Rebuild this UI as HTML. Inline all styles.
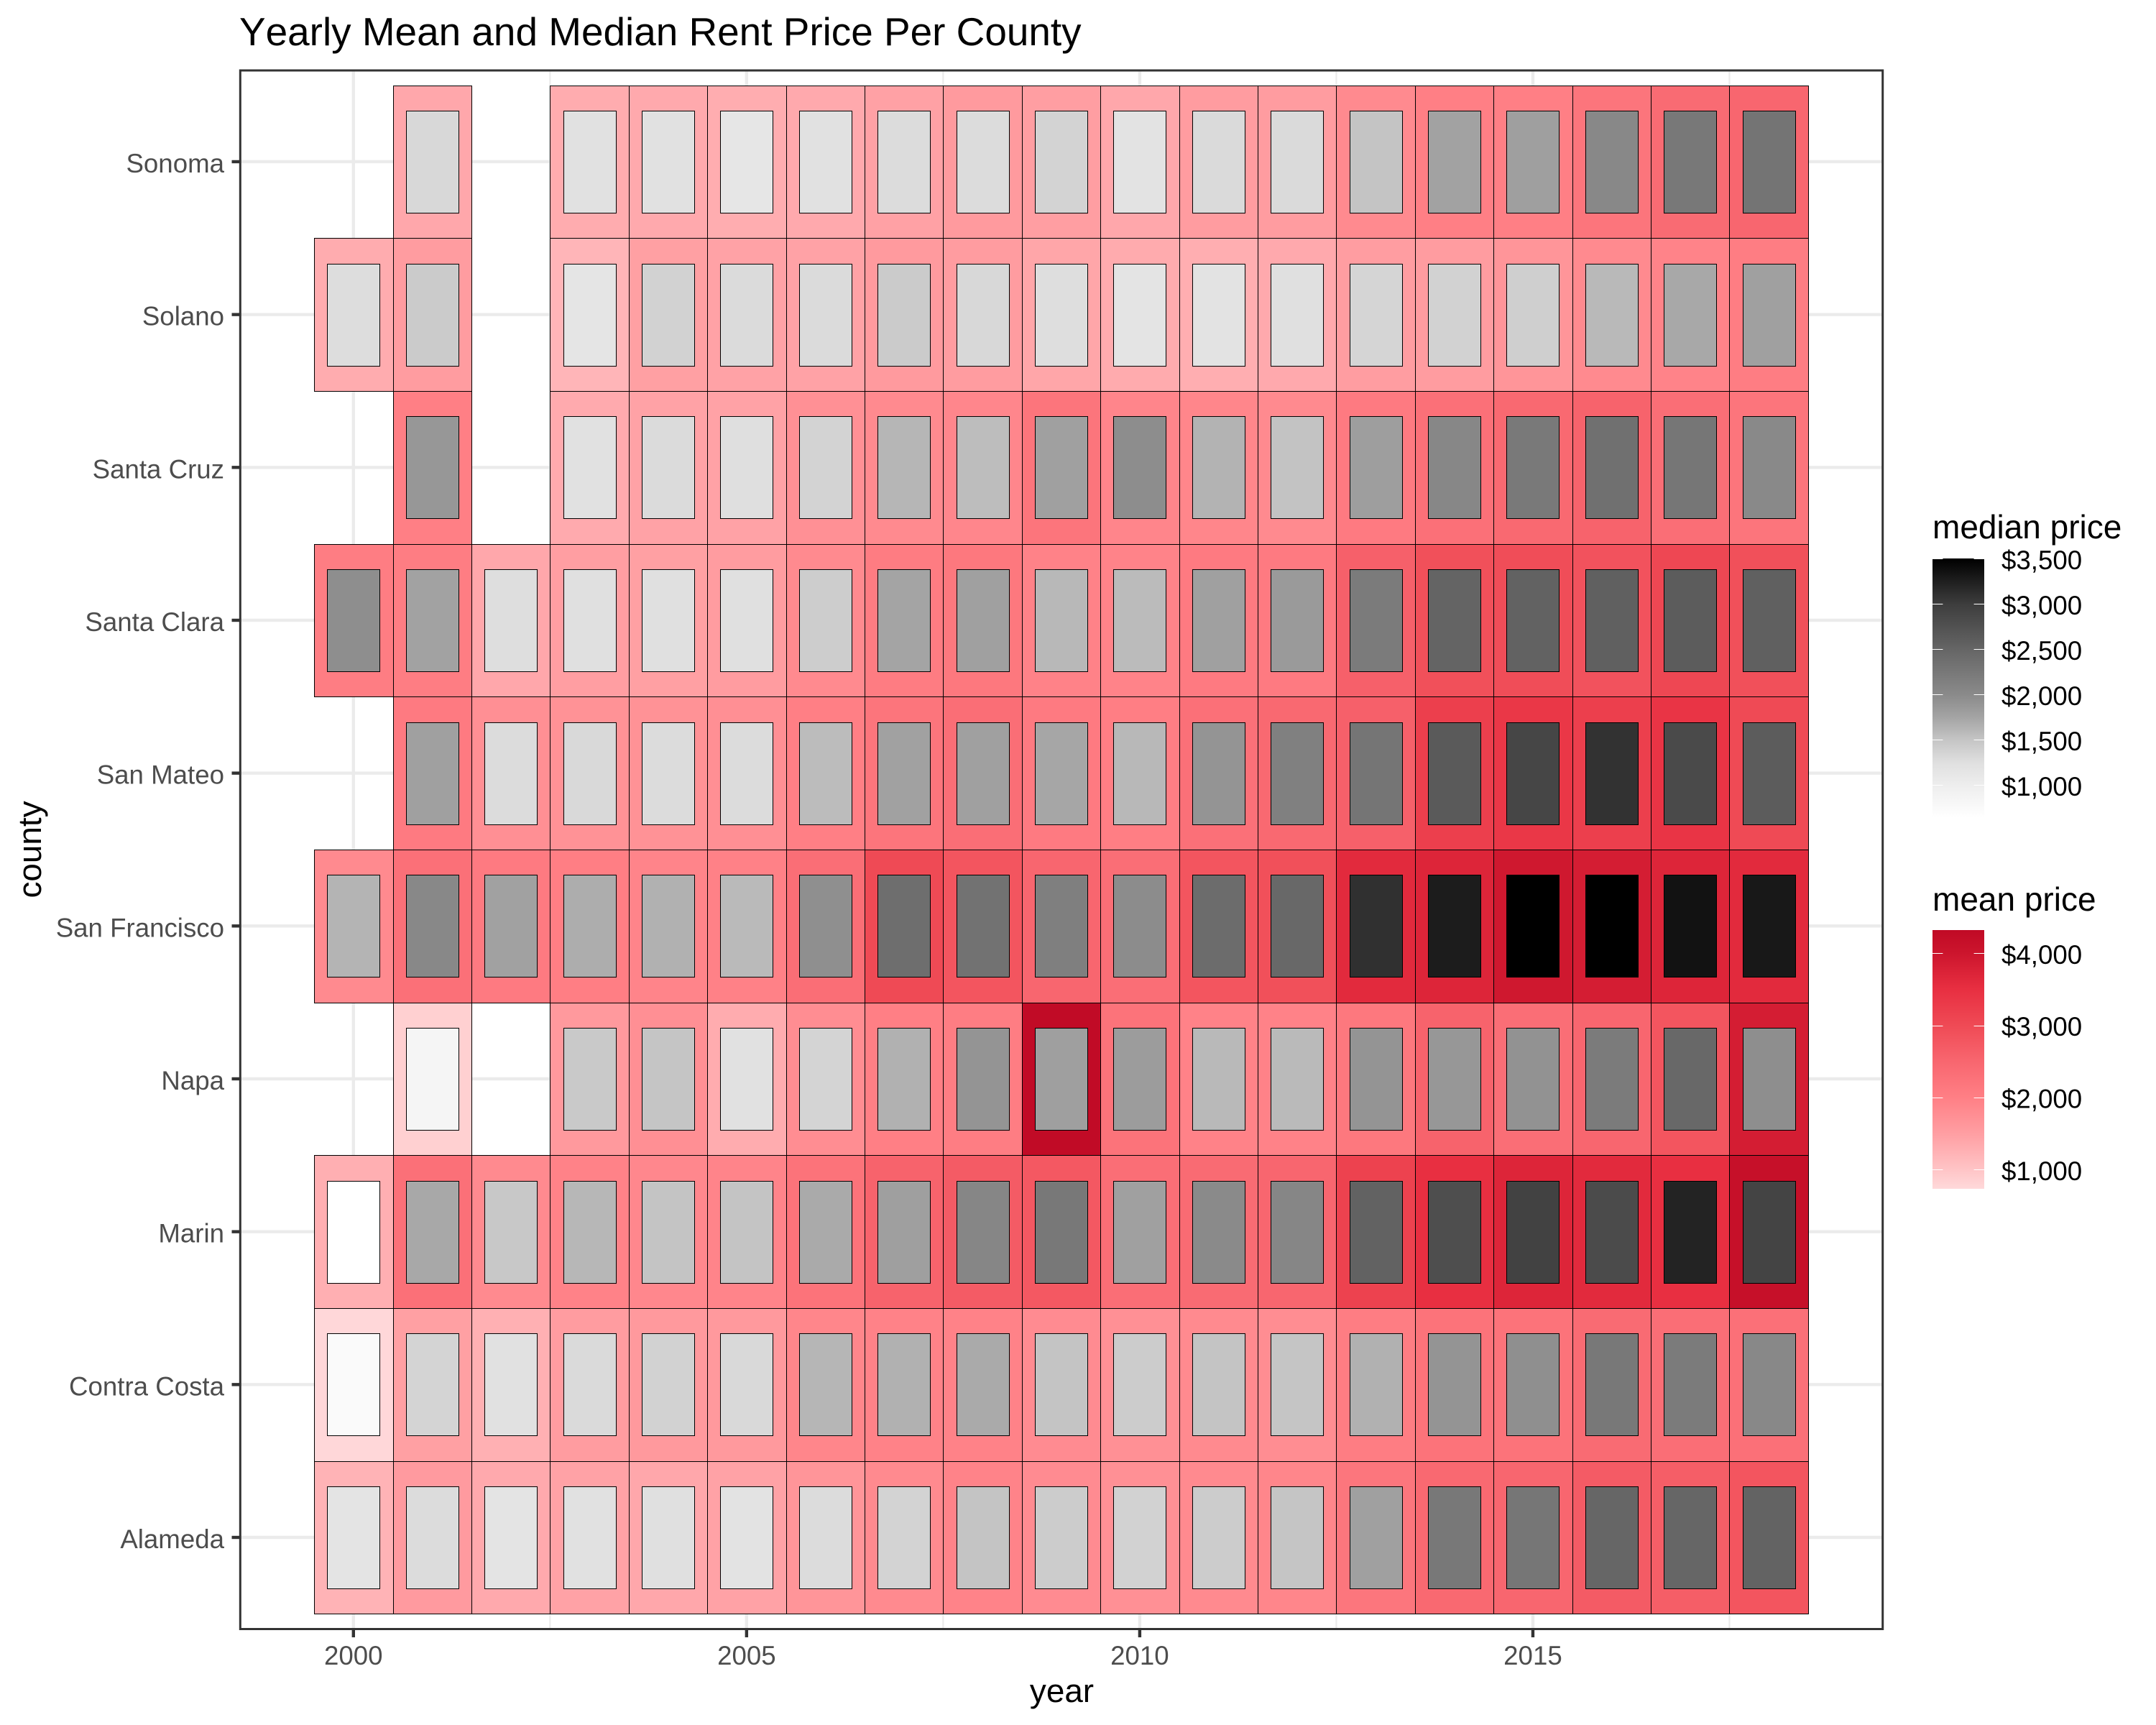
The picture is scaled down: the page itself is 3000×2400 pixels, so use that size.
<!DOCTYPE html>
<html lang="en">
<head>
<meta charset="utf-8">
<title>Yearly Mean and Median Rent Price Per County</title>
<style>
html,body{margin:0;padding:0;background:#fff;}
#chart{display:block;width:3000px;height:2400px;font-family:"Liberation Sans",Arial,sans-serif;font-kerning:none;}
</style>
</head>
<body>
<svg id="chart" xmlns="http://www.w3.org/2000/svg" width="3000" height="2400" viewBox="0 0 3000 2400">
  <defs>
    <linearGradient id="median-gradient" x1="0" y1="1" x2="0" y2="0"></linearGradient>
    <linearGradient id="mean-gradient" x1="0" y1="1" x2="0" y2="0"></linearGradient>
  </defs>
  <rect x="0" y="0" width="3000" height="2400" fill="#ffffff"/>
  <text x="333" y="63" font-size="54.9" fill="#000000">Yearly Mean and Median Rent Price Per County</text>
  <g id="grid"></g>
  <g id="tiles"></g>
  <rect x="334.3" y="98" width="2285.4" height="2168.5" fill="none" stroke="#333333" stroke-width="3"/>
  <g id="x-axis"></g>
  <g id="y-axis"></g>
  <text x="1477.5" y="2368" font-size="45.83" text-anchor="middle" fill="#000000">year</text>
  <text transform="translate(57,1182) rotate(-90)" font-size="45.83" text-anchor="middle" fill="#000000">county</text>
  <g id="legend-median">
    <text x="2689" y="749" font-size="46" fill="#000000">median price</text>
  </g>
  <g id="legend-mean">
    <text x="2689" y="1267" font-size="46" fill="#000000">mean price</text>
  </g>
</svg>
<script>
// ---- chart data ----
const years = [2000,2001,2002,2003,2004,2005,2006,2007,2008,2009,2010,2011,2012,2013,2014,2015,2016,2017,2018];
const counties = ["Alameda","Contra Costa","Marin","Napa","San Francisco","San Mateo","Santa Clara","Santa Cruz","Solano","Sonoma"];

const meanAlameda      = [1220,1560,1350,1450,1380,1450,1650,1820,1930,1800,1720,1820,1890,2180,2450,2500,2700,2650,2800];
const meanContraCosta  = [750,1480,1260,1530,1580,1580,1890,1950,1950,1800,1720,1820,1780,2050,2250,2250,2400,2350,2300];
const meanMarin        = [1280,2300,1820,1950,1870,1920,2250,2550,2700,2750,2350,2400,2500,3150,3500,3700,3600,3500,4150];
const meanNapa         = [null,850,null,1580,1750,1320,1780,2000,2050,4300,2250,1950,1950,2150,2550,2350,2500,2800,3850];
const meanSanFrancisco = [1820,2300,2100,2020,1920,1960,2350,3000,2800,2500,2350,2800,2900,3600,3700,3950,3850,3700,3600];
const meanSanMateo     = [null,2100,1750,1700,1700,1750,2000,2200,2350,2100,2020,2300,2450,2600,3200,3350,3200,3400,3000];
const meanSantaClara   = [2050,2050,1380,1500,1480,1530,1820,2070,2150,1950,1930,2100,2100,2600,2900,2950,2850,3050,2900];
const meanSantaCruz    = [null,2000,null,1340,1450,1450,1720,1820,1880,2200,1900,1890,1820,2100,2300,2450,2550,2350,2200];
const meanSolano       = [1320,1530,null,1200,1480,1450,1450,1570,1530,1400,1330,1290,1350,1510,1530,1650,1820,1930,2050];
const meanSonoma       = [null,1380,null,1320,1350,1300,1350,1460,1570,1500,1380,1530,1530,1820,2000,2000,2200,2400,2500];

const medianAlameda      = [1180,1288,1180,1232,1250,1196,1288,1375,1515,1442,1385,1442,1508,1798,2257,2284,2500,2500,2538];
const medianContraCosta  = [752,1365,1232,1308,1385,1317,1621,1659,1712,1515,1442,1515,1508,1659,1913,1962,2257,2216,2041];
const medianMarin        = [650,1727,1481,1614,1515,1515,1712,1808,2068,2257,1798,2014,2068,2550,2800,2950,2838,3225,2925];
const medianNapa         = [null,855,null,1471,1508,1232,1365,1659,1913,1808,1837,1598,1591,1913,1885,1933,2216,2473,1971];
const medianSanFrancisco = [1636,2041,1789,1689,1659,1591,1962,2392,2338,2162,1990,2419,2473,3117,3285,3505,3505,3363,3316];
const medianSanMateo     = [null,1798,1288,1317,1288,1288,1576,1789,1798,1742,1606,1913,2149,2297,2650,2900,3100,2850,2625];
const medianSantaClara   = [1971,1779,1269,1250,1250,1250,1433,1760,1798,1606,1583,1798,1856,2216,2525,2550,2575,2625,2575];
const medianSantaCruz    = [null,1885,null,1232,1298,1260,1375,1621,1568,1798,1981,1644,1523,1817,2054,2243,2365,2284,2027];
const medianSolano       = [1279,1452,null,1160,1385,1298,1298,1452,1327,1269,1180,1196,1250,1356,1385,1413,1598,1727,1798];
const medianSonoma       = [null,1327,null,1232,1232,1143,1232,1288,1288,1375,1196,1308,1308,1515,1779,1808,2041,2257,2311];

const meanRows = [meanAlameda,meanContraCosta,meanMarin,meanNapa,meanSanFrancisco,meanSanMateo,meanSantaClara,meanSantaCruz,meanSolano,meanSonoma];
const medianRows = [medianAlameda,medianContraCosta,medianMarin,medianNapa,medianSanFrancisco,medianSanMateo,medianSantaClara,medianSantaCruz,medianSolano,medianSonoma];

const xTickYears = [2000,2005,2010,2015];
const xMinorYears = [2002.5,2007.5,2012.5,2017.5];
const medianTicks = [1000,1500,2000,2500,3000,3500];
const medianTickLabels = ["$1,000","$1,500","$2,000","$2,500","$3,000","$3,500"];
const meanTicks = [1000,2000,3000,4000];
const meanTickLabels = ["$1,000","$2,000","$3,000","$4,000"];

// colour scales: value and matching colour
const medianDomain = [648,1000,1250,1500,1750,2000,2500,3000,3250,3505];
const medianColors = ["#ffffff","#eeeeee","#e0e0e0","#c6c6c6","#a5a5a5","#8b8b8b","#666666","#3e3e3e","#202020","#000000"];
const meanDomain = [730,1000,1500,2000,2500,3000,3500,4000,4320];
const meanColors = ["#ffd9da","#ffc4c6","#ff9ea2","#ff7f85","#f8666f","#ef4a55","#e82f41","#cc152d","#c00a25"];

// ---- axis functions ----
const xScale = year => 491.8 + (year - 2000) * 109.41;
const yScale = idx => 2139 - idx * 212.67;
const medianLegendY = v => 1092.3 - (v - 1000) * 0.126;
const meanLegendY = v => 1627.3 - (v - 1000) * 0.1003;

const NS = "http://www.w3.org/2000/svg";
function mk(tag, attrs, parent) {
  const el = document.createElementNS(NS, tag);
  for (const k in attrs) el.setAttribute(k, attrs[k]);
  parent.appendChild(el);
  return el;
}
function hexToRgb(h) {
  return [parseInt(h.slice(1,3),16),parseInt(h.slice(3,5),16),parseInt(h.slice(5,7),16)];
}
function colorAt(v, domain, colors) {
  if (v <= domain[0]) return colors[0];
  for (let i = 1; i < domain.length; i++) {
    if (v <= domain[i]) {
      const t = (v - domain[i-1]) / (domain[i] - domain[i-1]);
      const a = hexToRgb(colors[i-1]);
      const b = hexToRgb(colors[i]);
      return "rgb(" + a.map((c,j) => Math.round(c + (b[j]-c)*t)).join(",") + ")";
    }
  }
  return colors[colors.length-1];
}

// ---- grid ----
const gridG = document.getElementById("grid");
const panelL = 334, panelR = 2620, panelT = 98, panelB = 2266.5;
xMinorYears.forEach(yr => {
  const ln = mk("line", {x1:xScale(yr), x2:xScale(yr), y1:panelT, y2:panelB, stroke:"#ebebeb", "stroke-width":2.2}, gridG);
  
  
});
xTickYears.forEach(yr => {
  const ln = mk("line", {x1:xScale(yr), x2:xScale(yr), y1:panelT, y2:panelB, stroke:"#ebebeb", "stroke-width":4.4}, gridG);
  
  
});
counties.forEach((c, i) => {
  const ln = mk("line", {x1:panelL, x2:panelR, y1:yScale(i), y2:yScale(i), stroke:"#ebebeb", "stroke-width":4.4}, gridG);
  
  
});

// ---- tiles ----
const tilesG = document.getElementById("tiles");
function tileRect(cx, cy, w, h, fill, parent) {
  const x0 = Math.round(cx - w/2), x1 = Math.round(cx + w/2);
  const y0 = Math.round(cy - h/2), y1 = Math.round(cy + h/2);
  return mk("rect", {x:x0+0.5, y:y0+0.5, width:x1-x0, height:y1-y0, fill:fill, stroke:"#000000", "stroke-width":1, "shape-rendering":"crispEdges"}, parent);
}
const unitX = xScale(1) - xScale(0);
const unitY = yScale(0) - yScale(1);
counties.forEach((county, r) => {
  years.forEach((year, c) => {
    const v = meanRows[r][c];
    if (v === null) return;
    const t = tileRect(xScale(year), yScale(r), unitX, unitY, colorAt(v, meanDomain, meanColors), tilesG);
    
    
  });
});
counties.forEach((county, r) => {
  years.forEach((year, c) => {
    const v = medianRows[r][c];
    if (v === null) return;
    const t = tileRect(xScale(year), yScale(r), unitX*2/3, unitY*2/3, colorAt(v, medianDomain, medianColors), tilesG);
    
    
  });
});

// ---- axes ----
const xAxisG = document.getElementById("x-axis");
xTickYears.forEach(yr => {
  const tick = mk("line", {x1:xScale(yr), x2:xScale(yr), y1:2266.5, y2:2278, stroke:"#333333", "stroke-width":4.4}, xAxisG);
  
  
  const lab = mk("text", {x:xScale(yr), y:2316, "font-size":36.67, "text-anchor":"middle", fill:"#4d4d4d"}, xAxisG);
  lab.textContent = String(yr);
  
  
});
const yAxisG = document.getElementById("y-axis");
counties.forEach((county, i) => {
  const tick = mk("line", {x1:322.5, x2:334, y1:yScale(i), y2:yScale(i), stroke:"#333333", "stroke-width":4.4}, yAxisG);
  
  
  const lab = mk("text", {x:312, y:yScale(i)+15, "font-size":36.67, "text-anchor":"end", fill:"#4d4d4d"}, yAxisG);
  lab.textContent = county;
  
  
});

// ---- legends ----
function fillGradient(id, domain, colors) {
  const g = document.getElementById(id);
  const lo = domain[0], hi = domain[domain.length-1];
  domain.forEach((v, i) => {
    mk("stop", {offset:(v-lo)/(hi-lo), "stop-color":colors[i]}, g);
  });
}
fillGradient("median-gradient", medianDomain, medianColors);
fillGradient("mean-gradient", meanDomain, meanColors);

const barL = 2689, barW = 72, tickLen = 14.4, labelX = 2785;

const medianG = document.getElementById("legend-median");
const medianBar = mk("rect", {x:barL, y:778, width:barW, height:360, fill:"url(#median-gradient)"}, medianG);


const medianCap = mk("rect", {x:barL+tickLen, y:777, width:barW-2*tickLen, height:1, fill:"#000000"}, medianG);


medianTicks.forEach((v, i) => {
  const y = Math.round(medianLegendY(v));
  if (i < medianTicks.length - 1) {
    const a = mk("rect", {x:barL, y:y, width:tickLen, height:1, fill:"#ffffff"}, medianG);
    
    
    const b = mk("rect", {x:barL+barW-tickLen, y:y, width:tickLen, height:1, fill:"#ffffff"}, medianG);
    
    
  }
  const lab = mk("text", {x:labelX, y:medianLegendY(v)+14.5, "font-size":36.67, fill:"#000000"}, medianG);
  lab.textContent = medianTickLabels[i];
  
  
});

const meanG = document.getElementById("legend-mean");
const meanBar = mk("rect", {x:barL, y:1294, width:barW, height:360, fill:"url(#mean-gradient)"}, meanG);


meanTicks.forEach((v, i) => {
  const y = Math.round(meanLegendY(v));
  const a = mk("rect", {x:barL, y:y, width:tickLen, height:1, fill:"#ffffff"}, meanG);
  
  
  const b = mk("rect", {x:barL+barW-tickLen, y:y, width:tickLen, height:1, fill:"#ffffff"}, meanG);
  
  
  const lab = mk("text", {x:labelX, y:meanLegendY(v)+14.5, "font-size":36.67, fill:"#000000"}, meanG);
  lab.textContent = meanTickLabels[i];
  
  
});
</script>
</body>
</html>
